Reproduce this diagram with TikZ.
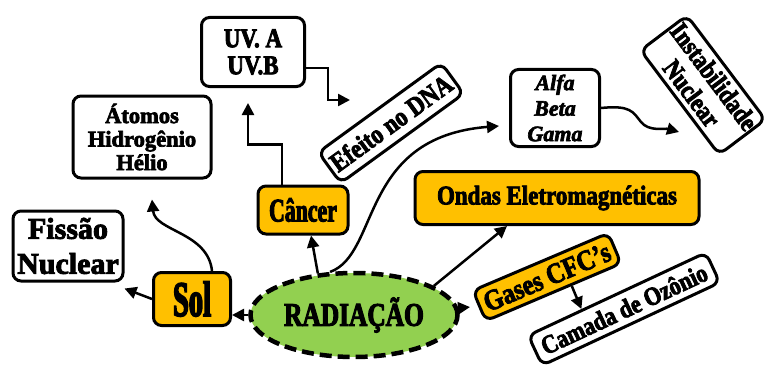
\documentclass[tikz,border=0pt]{standalone}
\usepackage{fontspec}
\setmainfont[FakeBold=3]{Liberation Serif}
\newfontfamily\narrowfont[FakeStretch=0.85,FakeBold=3]{Liberation Serif}
\newfontfamily\radfont[FakeStretch=0.77,FakeBold=3]{Liberation Serif}
\newfontfamily\cancerfont[FakeStretch=0.66,FakeBold=3]{Liberation Serif}
\newfontfamily\solfont[FakeStretch=0.57,FakeBold=3]{Liberation Serif}
\usepackage{tikz}
\usetikzlibrary{arrows.meta,positioning,shapes.geometric,calc,backgrounds}
\definecolor{gold}{HTML}{FFC000}
\definecolor{leaf}{HTML}{92D050}
\tikzset{
  box/.style={rectangle, rounded corners=8pt, draw=black, line width=3pt,
    fill=white, align=center, inner sep=2pt},
  hot/.style={box, fill=gold},
  txbig/.style={font=\bfseries\fontsize{30}{35}\selectfont},
  txmid/.style={font=\bfseries\fontsize{22.5}{23.5}\selectfont},
  txnar/.style={font=\narrowfont\bfseries\fontsize{27}{27}\selectfont},
  arr/.style={-{Triangle[length=12pt,width=12pt]}, line width=2.5pt},
}

\begin{document}
\begin{tikzpicture}[x=1pt, y=-1pt]
  \useasboundingbox (0,0) rectangle (768,369);
  \node[box, txnar, minimum width=103pt, minimum height=69pt] (uv) at (253,52) {UV. A\\UV.B};
  \node[box, txmid, minimum width=138pt, minimum height=82pt] (ato) at (142,137) {Átomos\\Hidrogênio\\Hélio};
  \node[box, txbig, minimum width=110pt, minimum height=70pt] (fis) at (68,246) {Fissão\\Nuclear};
  \node[hot, minimum width=77pt, minimum height=53pt,
    font=\solfont\bfseries\fontsize{50}{50}\selectfont] (sol) at (192,299) {Sol};
  \node[hot, minimum width=90pt, minimum height=48pt,
    font=\cancerfont\bfseries\fontsize{33}{33}\selectfont] (can) at (303,210) {Câncer};
  \node[box, txnar, rotate=36, minimum width=152pt, minimum height=38pt] (dna) at (391,123) {Efeito no DNA};
  \node[box, font=\bfseries\itshape\fontsize{22}{25.5}\selectfont,
    minimum width=89pt, minimum height=77pt] (alf) at (555,108) {Alfa\\Beta\\Gama};
  \node[box, font=\narrowfont\bfseries\fontsize{26.5}{28}\selectfont, rotate=-53,
    minimum width=120pt, minimum height=58pt] (ins) at (703,85) {Instabilidade\\Nuclear};
  \node[hot, txnar, minimum width=284pt, minimum height=53pt] (ond) at (557,198) {Ondas Eletromagnéticas};
  \node[hot, font=\narrowfont\bfseries\fontsize{29}{29}\selectfont, rotate=23,
    minimum width=147pt, minimum height=33pt] (gas) at (547,277) {Gases CFC’s};
  \node[box, font=\narrowfont\bfseries\fontsize{26}{26}\selectfont, rotate=25,
    minimum width=196pt, minimum height=33pt] (cam) at (624,309) {Camada de Ozônio};
  \node[ellipse, draw=black, fill=leaf, line width=4.5pt, dash pattern=on 12pt off 6pt,
    minimum width=188pt, minimum height=84pt,
    font=\radfont\bfseries\fontsize{33}{33}\selectfont] (rad) at (354,315) {RADIAÇÃO};

  \coordinate (dnatip) at (350,100);
  \coordinate (instip) at (679,132);
  \coordinate (wig) at ($(alf.east)+(40,14)$);

  \begin{scope}[on background layer]
    \draw[arr] (rad.west) -- (rad.west -| sol.east);
    \draw[arr] (sol.west) -- ([yshift=-6pt]fis.south east);
    \draw[arr] ([xshift=20pt]sol.north) .. controls +(-4,-39) and +(3,32) .. ([xshift=10pt,yshift=-20pt]ato.south);
    \draw[arr] (rad.131) -- ([xshift=8pt]can.south);
    \draw[arr] ([xshift=-21pt]can.north) -- ++(0,-40) -| ([xshift=-5pt,yshift=-15pt]uv.south);
    \draw[arr] ([yshift=-16pt]uv.east) -- ++(22,0) |- (dnatip);
    \draw[arr] (rad.119) .. controls +(50,-18) and +(-140,11) .. ([xshift=-10pt,yshift=-18pt]alf.west);
    \draw[arr] (alf.east) .. controls +(30,-3) and +(-8,-10) .. (wig)
      .. controls +(8,10) and +(-14,-4) .. (instip);
    \draw[arr] (rad.20) -- ([xshift=-50pt]ond.south);
    \draw[arr, shorten >=8pt] ([yshift=7pt]rad.east) -- (gas.west);
    \draw[arr] (gas.-43) -- (cam.155);
  \end{scope}
\end{tikzpicture}
\end{document}
